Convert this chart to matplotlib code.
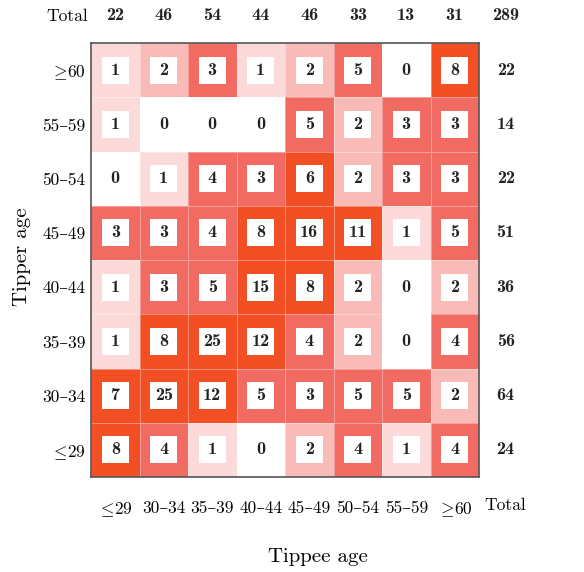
import numpy as np
import matplotlib
matplotlib.use("Agg")
import matplotlib.pyplot as plt
from matplotlib.colors import ListedColormap, BoundaryNorm
from matplotlib.patches import Rectangle

plt.rcParams['mathtext.fontset'] = 'cm'
plt.rcParams['font.family'] = ['cmr10', 'DejaVu Serif']
plt.rcParams['axes.unicode_minus'] = False

tippee_labels = [r'$\leq\!29$', '30–34', '35–39', '40–44', '45–49', '50–54', '55–59', r'$\geq\!60$']
tipper_labels = [r'$\geq\!60$', '55–59', '50–54', '45–49', '40–44', '35–39', '30–34', r'$\leq\!29$']

counts = [
    [1, 2, 3, 1, 2, 5, 0, 8],
    [1, 0, 0, 0, 5, 2, 3, 3],
    [0, 1, 4, 3, 6, 2, 3, 3],
    [3, 3, 4, 8, 16, 11, 1, 5],
    [1, 3, 5, 15, 8, 2, 0, 2],
    [1, 8, 25, 12, 4, 2, 0, 4],
    [7, 25, 12, 5, 3, 5, 5, 2],
    [8, 4, 1, 0, 2, 4, 1, 4],
]
row_totals = [22, 14, 22, 51, 36, 56, 64, 24]
col_totals = [22, 46, 54, 44, 46, 33, 13, 31]
grand_total = 289

data = np.array(counts)
cmap = ListedColormap(['#ffffff', '#fcdad9', '#f8bbb8', '#f26b63', '#f24f24'])
norm = BoundaryNorm([-0.5, 0.5, 1.5, 2.5, 5.5, 100], cmap.N)

BOLD = ['cmb10', 'DejaVu Serif']

fig = plt.figure(figsize=(5.84, 5.72), dpi=100)
ax = fig.add_axes([91/584, 1 - 477/572, 388/584, 434/572])
n = data.shape[0]
ax.pcolormesh(np.arange(n + 1), np.arange(n + 1), data, cmap=cmap, norm=norm,
              edgecolors=(1, 1, 1, 0.35), linewidth=0.6)
ax.set_xlim(0, n)
ax.set_ylim(n, 0)

bw, bh = 0.56, 0.5
for i in range(n):
    for j in range(n):
        v = data[i, j]
        if v > 0:
            ax.add_patch(Rectangle((j + 0.5 - bw / 2, i + 0.5 - bh / 2), bw, bh,
                                   facecolor='white', edgecolor='none', zorder=3))
        ax.text(j + 0.5, i + 0.5, str(v), ha='center', va='center', family=BOLD,
                fontsize=13, color='#222222', zorder=4)

for s in ax.spines.values():
    s.set_color('#555555')
    s.set_linewidth(1.2)

ax.set_xticks(np.arange(n) + 0.5)
ax.set_xticklabels(tippee_labels, fontsize=12.5)
ax.set_yticks(np.arange(n) + 0.5)
ax.set_yticklabels(tipper_labels, fontsize=12.5)
ax.tick_params(length=0, pad=4)
ax.tick_params(axis='x', pad=17)

# totals
for j, t in enumerate(col_totals):
    ax.text(j + 0.5, -0.5, str(t), ha='center', va='center', fontsize=13, family=BOLD,
            color='#222222', clip_on=False)
for i, t in enumerate(row_totals):
    ax.text(n + 0.55, i + 0.5, str(t), ha='center', va='center', fontsize=13, family=BOLD,
            color='#222222', clip_on=False)
ax.text(n + 0.55, -0.5, str(grand_total), ha='center', va='center', fontsize=13, family=BOLD,
        color='#222222', clip_on=False)
ax.text(-0.06, -0.5, 'Total', ha='right', va='center', fontsize=12.5, clip_on=False)
ax.text(n + 0.55, n + 0.52, 'Total', ha='center', va='center', fontsize=12.5, clip_on=False)

fig.text(318/584, 1 - 557/572, 'Tippee age', ha='center', va='center', fontsize=15)
fig.text(22/584, 1 - 257/572, 'Tipper age', ha='center', va='center', fontsize=15, rotation=90)

fig.savefig('out.png', dpi=100)
